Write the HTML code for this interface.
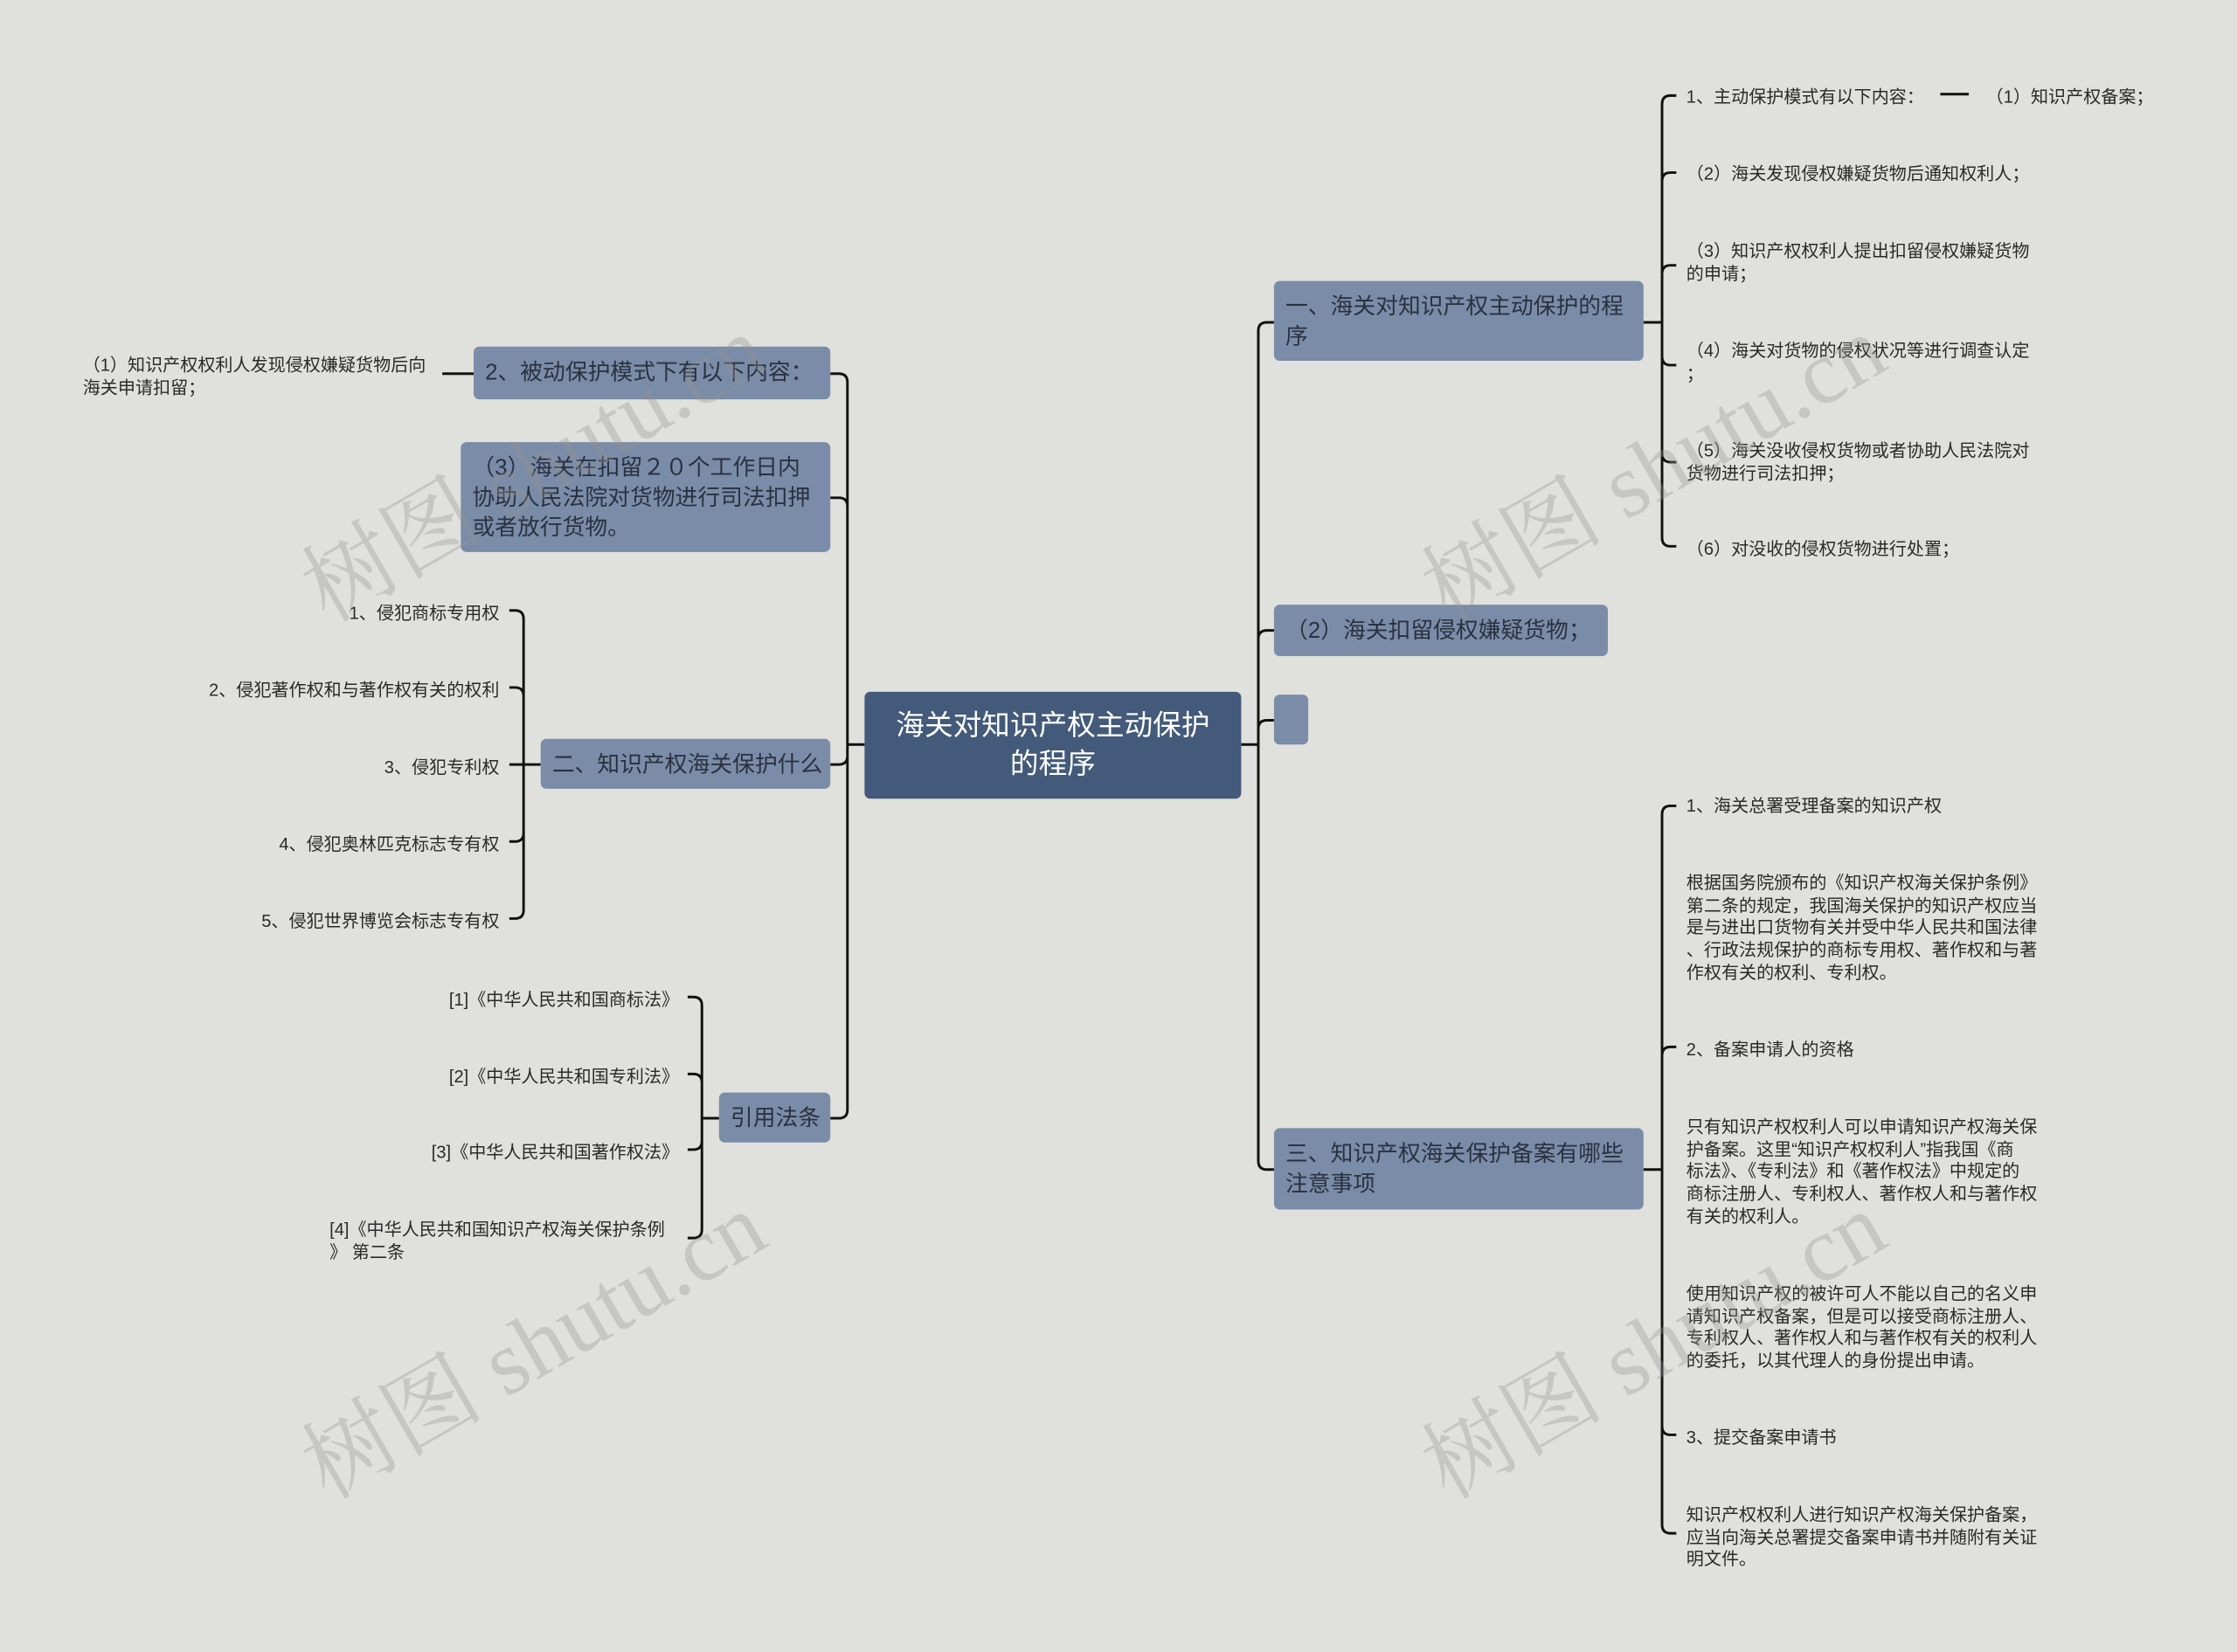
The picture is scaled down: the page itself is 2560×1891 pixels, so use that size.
<!DOCTYPE html>
<html><head><meta charset="utf-8">
<style>
html,body{margin:0;padding:0;background:#e0e0dc;}
#wrap{position:relative;width:1568px;height:1158px;transform:scale(1.63265);transform-origin:0 0;font-family:"Liberation Sans","Noto Sans CJK SC",sans-serif;overflow:hidden;}
.n{position:absolute;background:#7a8ca8;border-radius:4px;color:#2a3140;font-size:15.8px;line-height:21px;box-sizing:border-box;padding:8px 6px 6px 8px;white-space:nowrap;}
.c{position:absolute;background:#435a7a;border-radius:4px;color:#fff;font-size:20px;line-height:27px;text-align:center;box-sizing:border-box;padding:11px 8px;white-space:nowrap;}
.t{position:absolute;font-size:12.3px;line-height:15.7px;color:#2a2a2a;white-space:nowrap;margin-top:3px;}
.r{text-align:right;}
.wm{position:absolute;font-family:"Liberation Serif","Noto Serif CJK SC",serif;font-size:64px;color:rgba(150,150,150,0.35);transform:rotate(-30deg);white-space:nowrap;}
svg{position:absolute;left:0;top:0;}
</style></head><body>
<div id="wrap">
<svg id="s" width="1568" height="1158"></svg>

<div class="c" style="left:606px;top:485px;width:264px;height:75px;">海关对知识产权主动保护<br>的程序</div>

<div class="n" style="left:893px;top:197px;width:259px;height:56px;">一、海关对知识产权主动保护的程<br>序</div>
<div class="n" style="left:893px;top:424px;width:234px;height:36px;">（2）海关扣留侵权嫌疑货物；</div>
<div class="n" style="left:893px;top:487px;width:24px;height:35px;"></div>
<div class="n" style="left:893px;top:791px;width:259px;height:57px;">三、知识产权海关保护备案有哪些<br>注意事项</div>

<div class="n" style="left:332px;top:243px;width:250px;height:37px;">2、被动保护模式下有以下内容：</div>
<div class="n" style="left:323px;top:310px;width:259px;height:77px;">（3）海关在扣留２０个工作日内<br>协助人民法院对货物进行司法扣押<br>或者放行货物。</div>
<div class="n" style="left:379px;top:518px;width:203px;height:35px;">二、知识产权海关保护什么</div>
<div class="n" style="left:504px;top:766px;width:78px;height:35px;">引用法条</div>

<div class="t" style="left:1182px;top:58px;">1、主动保护模式有以下内容：</div>
<div class="t" style="left:1392px;top:58px;">（1）知识产权备案；</div>
<div class="t" style="left:1182px;top:112px;">（2）海关发现侵权嫌疑货物后通知权利人；</div>
<div class="t" style="left:1182px;top:166px;">（3）知识产权权利人提出扣留侵权嫌疑货物<br>的申请；</div>
<div class="t" style="left:1182px;top:236px;">（4）海关对货物的侵权状况等进行调查认定<br>；</div>
<div class="t" style="left:1182px;top:306px;">（5）海关没收侵权货物或者协助人民法院对<br>货物进行司法扣押；</div>
<div class="t" style="left:1182px;top:375px;">（6）对没收的侵权货物进行处置；</div>

<div class="t" style="left:1182px;top:555px;">1、海关总署受理备案的知识产权</div>
<div class="t" style="left:1182px;top:609px;">根据国务院颁布的《知识产权海关保护条例》<br>第二条的规定，我国海关保护的知识产权应当<br>是与进出口货物有关并受中华人民共和国法律<br>、行政法规保护的商标专用权、著作权和与著<br>作权有关的权利、专利权。</div>
<div class="t" style="left:1182px;top:726px;">2、备案申请人的资格</div>
<div class="t" style="left:1182px;top:780px;">只有知识产权权利人可以申请知识产权海关保<br>护备案。这里“知识产权权利人”指我国《商<br>标法》、《专利法》和《著作权法》中规定的<br>商标注册人、专利权人、著作权人和与著作权<br>有关的权利人。</div>
<div class="t" style="left:1182px;top:897px;">使用知识产权的被许可人不能以自己的名义申<br>请知识产权备案，但是可以接受商标注册人、<br>专利权人、著作权人和与著作权有关的权利人<br>的委托，以其代理人的身份提出申请。</div>
<div class="t" style="left:1182px;top:998px;">3、提交备案申请书</div>
<div class="t" style="left:1182px;top:1052px;">知识产权权利人进行知识产权海关保护备案，<br>应当向海关总署提交备案申请书并随附有关证<br>明文件。</div>

<div class="t" style="left:58px;top:246px;">（1）知识产权权利人发现侵权嫌疑货物后向<br>海关申请扣留；</div>

<div class="t r" style="right:1218px;top:420px;">1、侵犯商标专用权</div>
<div class="t r" style="right:1218px;top:474px;">2、侵犯著作权和与著作权有关的权利</div>
<div class="t r" style="right:1218px;top:528px;">3、侵犯专利权</div>
<div class="t r" style="right:1218px;top:582px;">4、侵犯奥林匹克标志专有权</div>
<div class="t r" style="right:1218px;top:636px;">5、侵犯世界博览会标志专有权</div>

<div class="t r" style="right:1092px;top:691px;">[1]《中华人民共和国商标法》</div>
<div class="t r" style="right:1092px;top:745px;">[2]《中华人民共和国专利法》</div>
<div class="t r" style="right:1092px;top:798px;">[3]《中华人民共和国著作权法》</div>
<div class="t" style="left:231px;top:852px;">[4]《中华人民共和国知识产权海关保护条例<br>》 第二条</div>

<div class="wm" style="left:192px;top:278px;">树图 shutu.cn</div>
<div class="wm" style="left:977px;top:278px;">树图 shutu.cn</div>
<div class="wm" style="left:192px;top:893px;">树图 shutu.cn</div>
<div class="wm" style="left:977px;top:893px;">树图 shutu.cn</div>
</div>
<script>
var s=document.getElementById('s'),d='';
function br(px,py,tx,ys,ex){var r=6;ys.forEach(function(y,i){var e=ex[i]!==undefined?ex[i]:ex[0];var dir=ex[0]>tx?1:-1;
d+='M'+px+','+py+' L'+tx+','+py+' ';
if(Math.abs(y-py)<r){d+='M'+tx+','+py+' L'+e+','+y+' ';}
else{var sg=y>py?1:-1;d+='M'+tx+','+py+' L'+tx+','+(y-sg*r)+' Q'+tx+','+y+' '+(tx+dir*r)+','+y+' L'+e+','+y+' ';}});}
br(870,522,882,[226,442,505,820],[893]);
br(1152,226,1165,[67,121,186,256,324,383],[1175]);
br(1152,820,1165,[565,734,1006,1075],[1175]);
br(606,522,594,[262,349,536,784],[582]);
br(379,536,367,[428,482,536,590,644],[357]);
br(504,784,492,[699,753,806,868],[482]);
d+='M332,262 L310,262 M1360,66 L1380,66 ';
var p=document.createElementNS('http://www.w3.org/2000/svg','path');
p.setAttribute('d',d);p.setAttribute('fill','none');p.setAttribute('stroke','#111');p.setAttribute('stroke-width','1.8');
s.appendChild(p);
</script>
</body></html>
